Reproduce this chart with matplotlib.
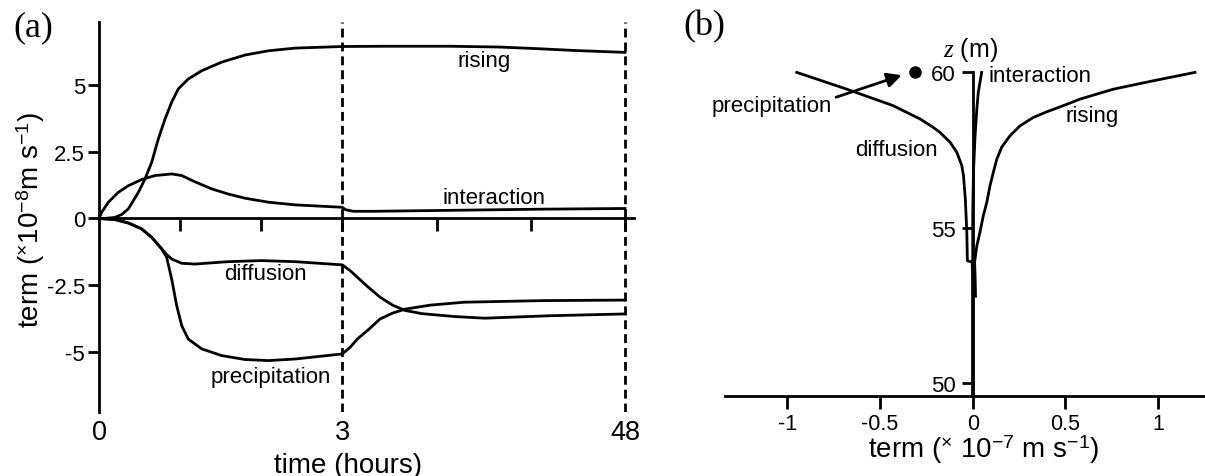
import numpy as np
import matplotlib
matplotlib.use('Agg')
import matplotlib.pyplot as plt
import matplotlib.transforms as mtransforms

plt.rcParams['font.family'] = ['Liberation Sans', 'DejaVu Sans']
plt.rcParams['mathtext.fontset'] = 'custom'
plt.rcParams['mathtext.rm'] = 'Liberation Sans'
plt.rcParams['mathtext.it'] = 'Liberation Serif:italic'

# ---- panel (a): terms vs time (hours) ----
rise_t = [0, 0.1, 0.197, 0.28, 0.362, 0.485, 0.567, 0.65, 0.731, 0.814, 0.896, 0.978, 1.1, 1.266,
          1.51, 1.8, 2.09, 2.42, 3, 10, 20, 28, 34, 40, 48]
rise_v = [0, 0.01, 0.04, 0.15, 0.36, 0.98, 1.48, 2.11, 2.98, 3.73, 4.36, 4.86, 5.23, 5.54,
          5.86, 6.13, 6.29, 6.39, 6.45, 6.46, 6.46, 6.43, 6.37, 6.3, 6.23]

inter_t = [0, 0.033, 0.115, 0.238, 0.362, 0.526, 0.69, 0.896, 1.02, 1.18, 1.39, 1.59, 1.8, 2.09,
           2.42, 3, 3.5, 4.75, 8, 15, 25, 35, 48]
inter_v = [0, 0.23, 0.61, 0.98, 1.23, 1.46, 1.61, 1.67, 1.61, 1.38, 1.11, 0.92, 0.76, 0.61,
           0.51, 0.42, 0.33, 0.27, 0.27, 0.29, 0.32, 0.35, 0.375]

diff_t = [0, 0.197, 0.362, 0.526, 0.65, 0.773, 0.834, 0.896, 1.02, 1.18, 1.59, 2.0, 2.42, 3,
          4.26, 7, 9, 11, 13, 15.7, 21, 25.7, 35.7, 48]
diff_v = [0, -0.04, -0.17, -0.39, -0.71, -1.14, -1.35, -1.52, -1.68, -1.71, -1.62, -1.58, -1.62, -1.74,
          -1.96, -2.55, -2.95, -3.25, -3.45, -3.57, -3.68, -3.74, -3.65, -3.58]

prec_t = [0, 0.197, 0.362, 0.526, 0.65, 0.773, 0.834, 0.896, 0.958, 1.02, 1.1, 1.266, 1.51, 1.8,
          2.09, 2.42, 3, 4.26, 5.4, 7.3, 9, 11, 13, 17, 22.4, 35, 48]
prec_v = [0, -0.04, -0.17, -0.39, -0.71, -1.14, -1.45, -2.27, -3.27, -4.02, -4.52, -4.89, -5.14, -5.29,
          -5.33, -5.27, -5.08, -4.83, -4.52, -4.14, -3.77, -3.55, -3.4, -3.25, -3.14, -3.08, -3.06]

# ---- panel (b): terms vs height z (m) ----
diff_b_v = [-0.95, -0.68, -0.43, -0.284, -0.213, -0.177, -0.122, -0.086, -0.059, -0.05, -0.04,
            -0.032, -0.029, -0.003, 0, 0]
diff_b_z = [60, 59.46, 58.93, 58.5, 58.23, 58.07, 57.75, 57.43, 57.0, 56.68, 55.93,
            54.85, 53.94, 53.9, 53.3, 49.59]

rise_b_v = [1.2, 0.975, 0.759, 0.579, 0.489, 0.399, 0.327, 0.255, 0.201, 0.156, 0.13, 0.111,
            0.093, 0.076, 0.057, 0.039, 0.022, 0.01, 0.013, 0.015]
rise_b_z = [60, 59.73, 59.46, 59.14, 58.93, 58.73, 58.55, 58.28, 57.96, 57.59, 57.21, 56.78,
            56.35, 55.82, 55.39, 54.86, 54.42, 53.9, 53.4, 52.8]

inter_b_v = [0.048, 0.039, 0.03, 0.022, 0.012, 0.004, 0, 0]
inter_b_z = [60, 59.68, 59.36, 58.82, 57.9, 56.8, 55.5, 49.59]

prec_b_v = [-0.312]
prec_b_z = [60.0]

K = 0.07746  # compressed scale after 3 h


def fwd(t):
    t = np.asarray(t, dtype=float)
    return np.where(t <= 3, t, 3 + (t - 3) * K)


def inv(u):
    u = np.asarray(u, dtype=float)
    return np.where(u <= 3, u, 3 + (u - 3) / K)


fig = plt.figure(figsize=(12.05, 4.77), dpi=100)

# panel (a)
ax1 = fig.add_axes([0.08216, 0.1335, 0.4438, 0.8189])
ax1.set_xscale('function', functions=(fwd, inv))
ax1.set_xlim(0, 49.4)
ax1.set_ylim(-7.27, 7.38)
for s in ['top', 'right']:
    ax1.spines[s].set_visible(False)
ax1.spines['bottom'].set_position(('data', 0))
ax1.spines['bottom'].set_linewidth(2)
ax1.spines['left'].set_linewidth(2)
ax1.set_xticks([1, 2, 3, 18, 33, 48])
ax1.set_xticklabels([])
ax1.xaxis.set_minor_locator(matplotlib.ticker.NullLocator())
ax1.tick_params(axis='x', direction='out', length=9, width=2)
ax1.set_yticks([-5, -2.5, 0, 2.5, 5])
ax1.set_yticklabels(['-5', '-2.5', '0', '2.5', '5'])
ax1.tick_params(axis='y', direction='out', length=8, width=2, labelsize=16, pad=2)

lw = 2
ax1.plot(rise_t, rise_v, color='k', lw=lw, solid_joinstyle='round')
ax1.plot(inter_t, inter_v, color='k', lw=lw, solid_joinstyle='round')
ax1.plot(diff_t, diff_v, color='k', lw=lw, solid_joinstyle='round')
ax1.plot(prec_t, prec_v, color='k', lw=lw, solid_joinstyle='round')
for xv in [3, 48]:
    ax1.axvline(xv, color='k', lw=2, ls=(0, (3.2, 1.8)))

fs = 16
ax1.text(25.5, 5.94, 'rising', fontsize=fs, ha='center', va='center')
ax1.text(27.2, 0.78, 'interaction', fontsize=fs, ha='center', va='center')
ax1.text(2.05, -2.08, 'diffusion', fontsize=fs, ha='center', va='center')
ax1.text(2.12, -5.93, 'precipitation', fontsize=fs, ha='center', va='center')

tr = mtransforms.blended_transform_factory(ax1.transData, fig.transFigure)
for xv, lab in zip([0, 3, 48], ['0', '3', '48']):
    ax1.text(xv, 0.0916, lab, fontsize=19.5, ha='center', va='center', transform=tr)
fig.text(348 / 1205, 1 - 466 / 477, 'time (hours)', fontsize=20, ha='center', va='center')
fig.text(31 / 1205, 1 - 220 / 477, r'term ($^{\times}$10$^{-8}$m s$^{-1}$)', fontsize=20,
         rotation=90, ha='center', va='center')
fig.text(33.5 / 1205, 1 - 28 / 477, '(a)', fontsize=26, family='Liberation Serif',
         ha='center', va='center')

# panel (b)
ax2 = fig.add_axes([0.6017, 0.1677, 0.3983, 0.7065])
ax2.set_xlim(-1.337, 1.2537)
ax2.set_ylim(49.59, 60.43)
for s in ['top', 'right']:
    ax2.spines[s].set_visible(False)
ax2.spines['left'].set_position(('data', 0))
ax2.spines['left'].set_bounds(49.59, 60)
ax2.spines['left'].set_linewidth(2)
ax2.spines['bottom'].set_linewidth(2)
ax2.set_xticks([-1, -0.5, 0, 0.5, 1])
ax2.set_xticklabels(['-1', '-0.5', '0', '0.5', '1'])
ax2.set_yticks([50, 55, 60])
ax2.set_yticklabels(['50', '55', '60'])
ax2.tick_params(axis='x', direction='out', length=9, width=2, labelsize=15.5, pad=3)
ax2.tick_params(axis='y', direction='out', length=8, width=2, labelsize=16, pad=4)

ax2.plot(diff_b_v, diff_b_z, color='k', lw=lw, clip_on=False, solid_joinstyle='round')
ax2.plot(rise_b_v, rise_b_z, color='k', lw=lw, clip_on=False, solid_joinstyle='round')
ax2.plot(inter_b_v, inter_b_z, color='k', lw=lw, clip_on=False, solid_joinstyle='round')
ax2.plot(prec_b_v, prec_b_z, 'o', color='k', ms=8, clip_on=False)

ax2.annotate('', xy=(-0.383, 59.91), xytext=(-0.738, 59.2),
             arrowprops=dict(arrowstyle='-|>', color='k', lw=2, mutation_scale=22,
                             shrinkA=0, shrinkB=0))
ax2.text(-0.759, 58.93, 'precipitation', fontsize=fs, ha='right', va='center')
ax2.text(-0.41, 57.53, 'diffusion', fontsize=fs, ha='center', va='center')
ax2.text(0.642, 58.6, 'rising', fontsize=fs, ha='center', va='center')
ax2.text(0.084, 59.89, 'interaction', fontsize=fs, ha='left', va='center')
ax2.text(-0.01, 60.75, r'$z$ (m)', fontsize=18, ha='center', va='center')

fig.text(984 / 1205, 1 - 450 / 477, r'term ($^{\times}$ 10$^{-7}$ m s$^{-1}$)', fontsize=20,
         ha='center', va='center')
fig.text(704 / 1205, 1 - 27 / 477, '(b)', fontsize=26, family='Liberation Serif',
         ha='center', va='center')

fig.savefig('out.png', dpi=100)
